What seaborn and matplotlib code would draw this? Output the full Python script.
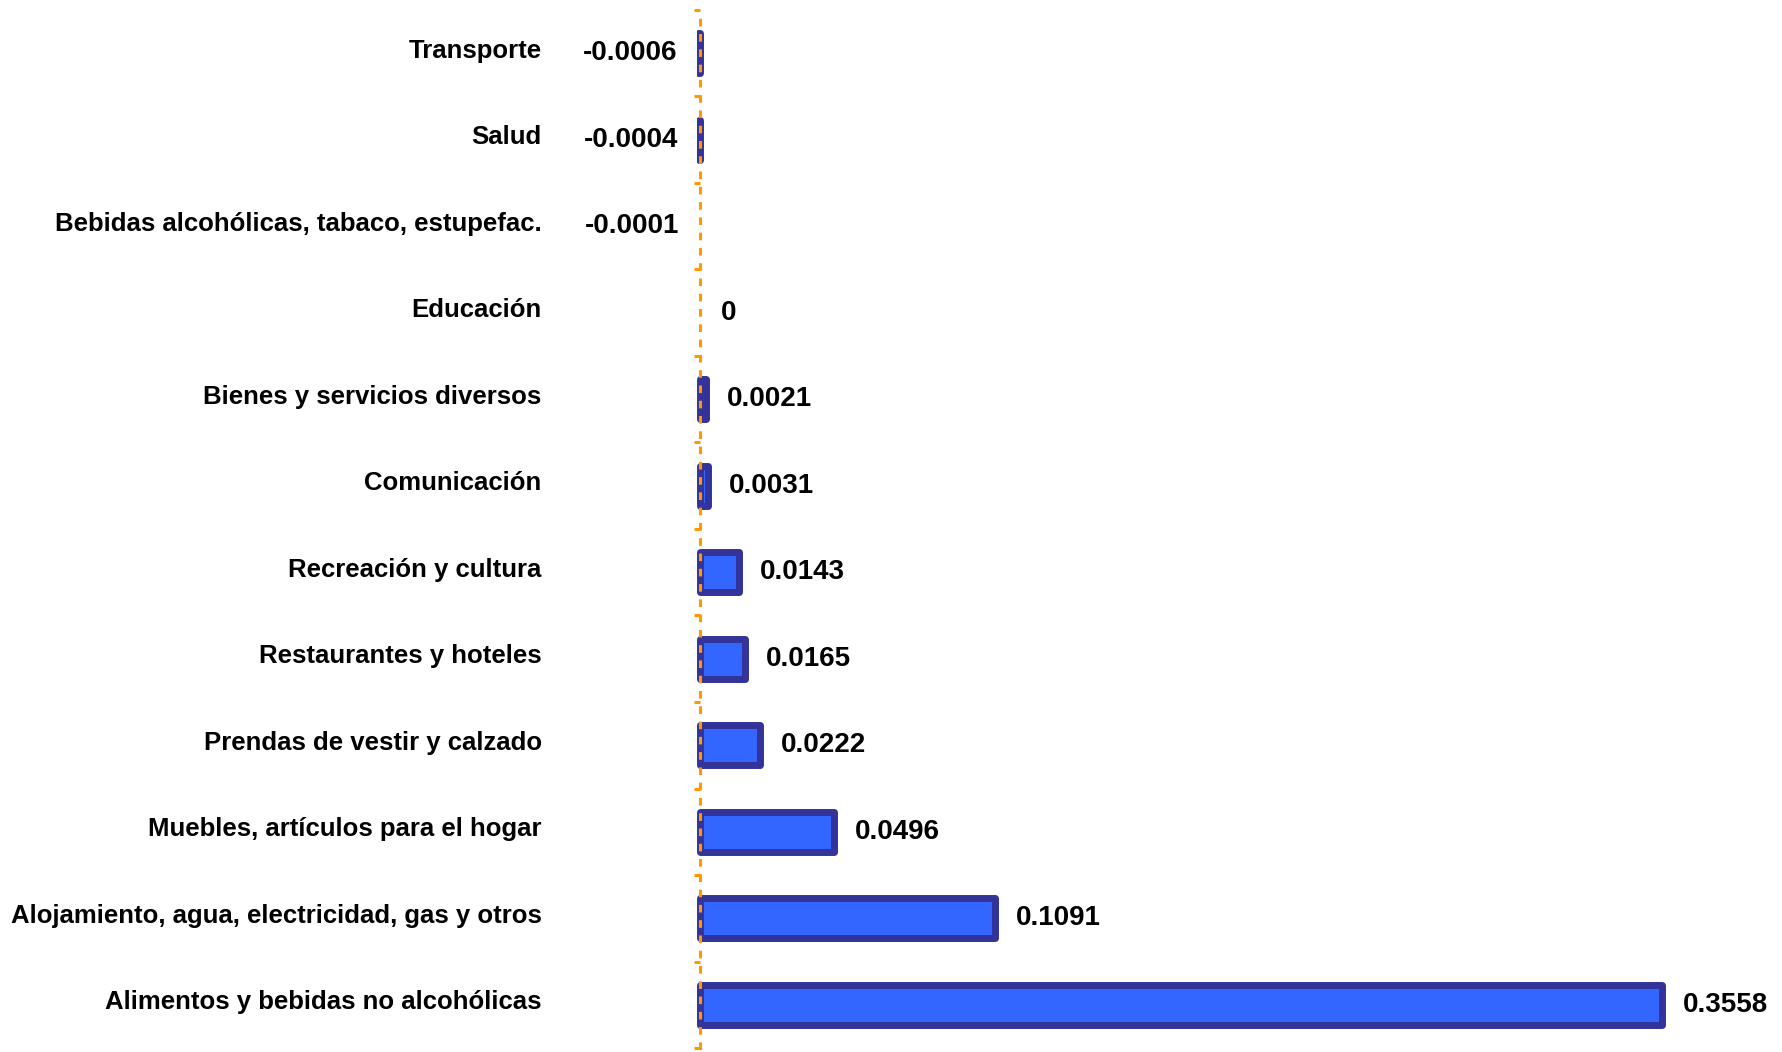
import matplotlib
matplotlib.use("Agg")
import matplotlib.pyplot as plt
import matplotlib.ticker as ticker
import matplotlib.transforms as mtransforms
import numpy as np
import pandas as pd
import seaborn as sns

# === DATA ===
categorias = [
    "Transporte",
    "Salud",
    "Bebidas alcohólicas, tabaco, estupefac.",
    "Educación",
    "Bienes y servicios diversos",
    "Comunicación",
    "Recreación y cultura",
    "Restaurantes y hoteles",
    "Prendas de vestir y calzado",
    "Muebles, artículos para el hogar",
    "Alojamiento, agua, electricidad, gas y otros",
    "Alimentos y bebidas no alcohólicas",
]
valores = [-0.0006, -0.0004, -0.0001, 0.0, 0.0021, 0.0031,
           0.0143, 0.0165, 0.0222, 0.0496, 0.1091, 0.3558]
etiquetas = ["-0.0006", "-0.0004", "-0.0001", "0", "0.0021", "0.0031",
             "0.0143", "0.0165", "0.0222", "0.0496", "0.1091", "0.3558"]

df = pd.DataFrame({"Categoria": categorias, "Valor": valores})

# === ESTILO ===
sns.set_style("white")
plt.rcParams["font.family"] = ["Liberation Sans", "DejaVu Sans"]
plt.rcParams["font.weight"] = "bold"
plt.rcParams["text.color"] = "black"
plt.rcParams["ytick.color"] = "black"
plt.rcParams["ytick.labelcolor"] = "black"

BAR_FACE = "#3366FF"
BAR_EDGE = "#333399"
NARANJA = "#FF9900"

fig = plt.figure(figsize=(17.83, 10.52), dpi=100)
ax = fig.add_axes([0.3911, 0.0038, 0.5928, 0.9867])

sns.barplot(data=df, x="Valor", y="Categoria", orient="h", ax=ax,
            color=BAR_FACE, saturation=1, width=0.46,
            edgecolor=BAR_EDGE, linewidth=5)

# barras casi nulas no se dibujan (como en el original)
for p, v in zip(ax.patches, valores):
    p.set_joinstyle("round")
    if abs(v) < 0.0002:
        p.set_visible(False)

ax.set_xlim(-0.001, 0.39)
ax.set_ylim(11.5, -0.5)

# eje vertical punteado naranja en x=0
for s in ["top", "right", "bottom"]:
    ax.spines[s].set_visible(False)
ax.spines["left"].set_position(("data", 0))
ax.spines["left"].set_color(NARANJA)
ax.spines["left"].set_linewidth(2.2)
ax.spines["left"].set_linestyle((0, (1.5, 3.5)))
ax.spines["left"].set_zorder(5)

ax.xaxis.set_visible(False)
ax.yaxis.set_minor_locator(ticker.FixedLocator(np.arange(-0.5, 12, 1)))
ax.tick_params(axis="y", which="major", left=True, length=0, pad=114,
               labelsize=18.5, labelcolor="black")
ax.tick_params(axis="y", which="minor", left=True, length=4, width=2.2,
               color=NARANJA, direction="out")
subir = mtransforms.ScaledTranslation(0, 3.5 / 72, fig.dpi_scale_trans)
for lbl in ax.get_yticklabels():
    lbl.set_fontweight("bold")
    lbl.set_transform(lbl.get_transform() + subir)
ax.set_ylabel("")
ax.set_xlabel("")

# etiquetas de valor
for i, (v, t) in enumerate(zip(valores, etiquetas)):
    if v < 0:
        ax.annotate(t, xy=(v, i), xytext=(-15, 0), textcoords="offset points",
                    ha="right", va="center", fontsize=20, fontweight="bold",
                    color="black")
    else:
        ax.annotate(t, xy=(v, i), xytext=(15, 0), textcoords="offset points",
                    ha="left", va="center", fontsize=20, fontweight="bold",
                    color="black")

fig.savefig("out.png", dpi=100)
